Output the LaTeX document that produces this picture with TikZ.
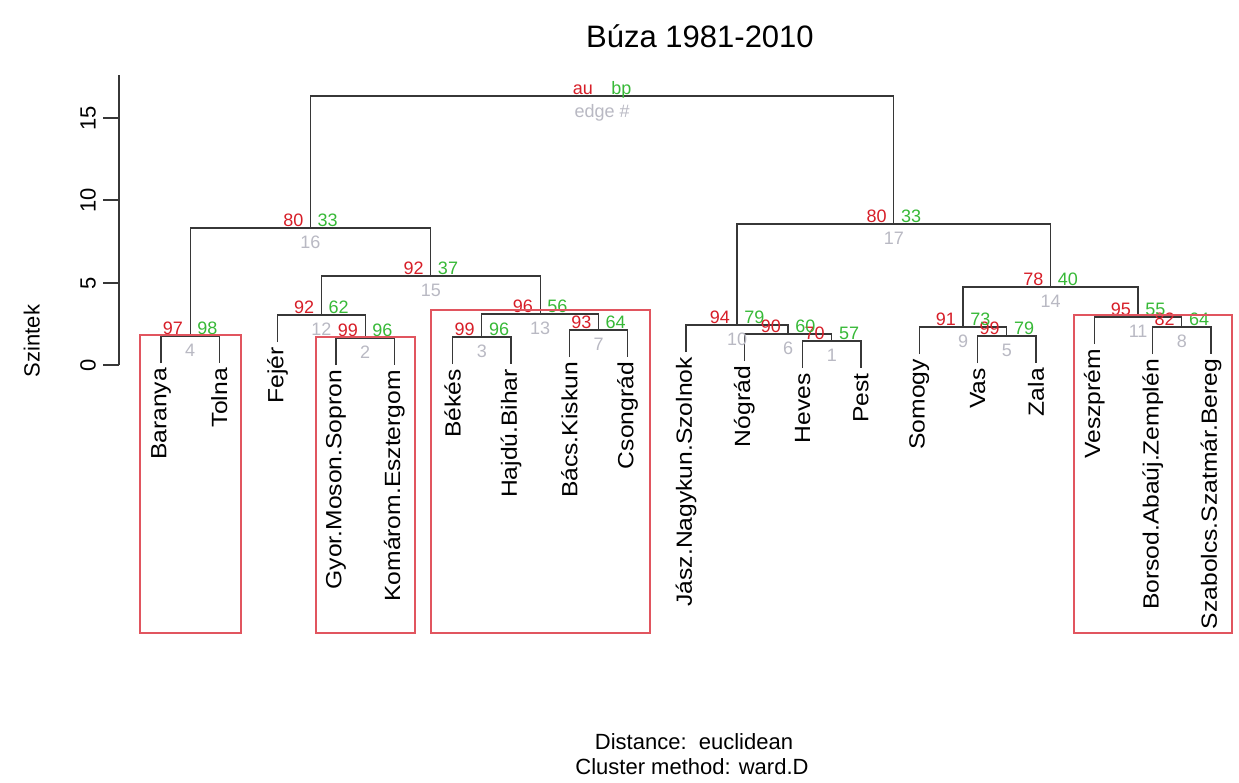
\documentclass[tikz,border=0pt]{standalone}
\usepackage{fontspec}
\setmainfont{Liberation Sans}
\usetikzlibrary{calc}
\definecolor{aured}{RGB}{215,30,40}
\definecolor{bpgreen}{RGB}{55,185,55}
\definecolor{edgegray}{RGB}{185,185,195}
\definecolor{rectred}{RGB}{225,85,95}
\definecolor{dendro}{RGB}{55,55,55}
\newcommand{\leafstretch}[1]{\scalebox{1.12}[1]{#1}}
\tikzset{
  branch/.style={draw=dendro, line width=1.2pt},
  axisline/.style={draw=dendro, line width=1.2pt},
  clusterbox/.style={draw=rectred, line width=1.2pt},
  leaflabel/.style={rotate=90, anchor=east, inner sep=0pt, font=\fontsize{22}{22}\selectfont},
  ticklabel/.style={rotate=90, anchor=south, inner sep=0pt, font=\fontsize{22}{22}\selectfont},
  aulabel/.style={text=aured, anchor=base east, inner sep=0pt, font=\fontsize{18}{18}\selectfont},
  bplabel/.style={text=bpgreen, anchor=base west, inner sep=0pt, font=\fontsize{18}{18}\selectfont},
  edgelabel/.style={text=edgegray, anchor=north, inner sep=0pt, font=\fontsize{18}{18}\selectfont},
  plaintext/.style={inner sep=0pt, font=\fontsize{22}{22}\selectfont},
}
\begin{document}
\begin{tikzpicture}[x=1pt,y=-1pt]
\useasboundingbox[fill=white] (0,0) rectangle (1239,782);

% title
\node[plaintext, font=\fontsize{31}{31}\selectfont] (title) at (700,36) {Búza 1981-2010};

% axis
\coordinate (ax0) at (119,365);
\coordinate (axtop) at (119,75);
\draw[axisline] (ax0) -- (axtop);
\foreach \v/\yy in {0/365,5/283,10/200,15/118}{
  \coordinate (tk\v) at (119,\yy);
  \coordinate (tke\v) at (103,\yy);
  \draw[axisline] (tk\v) -- (tke\v);
  \node[ticklabel] (tl\v) at (96,\yy) {\v};
}
\node[ticklabel] (ylab) at (40,341) {Szintek};

% leaves
\foreach \n/\x/\y/\t in {
 1/161/363/Baranya,
 2/219.33/363/Tolna,
 3/277.67/342/Fejér,
 4/336/365/Gyor.Moson.Sopron,
 5/394.33/365/Komárom.Esztergom,
 6/452.67/364/Békés,
 7/511/364/Hajdú.Bihar,
 8/569.33/357/Bács.Kiskun,
 9/627.67/357/Csongrád,
 10/686/352/Jász.Nagykun.Szolnok,
 11/744.33/361/Nógrád,
 12/802.67/368/Heves,
 13/861/368/Pest,
 14/919.33/354/Somogy,
 15/977.67/363/Vas,
 16/1036/363/Zala,
 17/1094.33/344/Veszprém,
 18/1152.67/354/Borsod.Abaúj.Zemplén,
 19/1211/354/Szabolcs.Szatmár.Bereg}{
  \coordinate (L\n) at (\x,\y);
  \node[leaflabel] (lab\n) at (\x,\y+5) {\leafstretch{\t}};
}

% merge points
\coordinate (e4) at (190.17,336);
\coordinate (e2) at (365.17,338);
\coordinate (e12) at (321.42,315);
\coordinate (e3) at (481.83,337);
\coordinate (e7) at (598.5,330);
\coordinate (e13) at (540.17,314);
\coordinate (e15) at (430.79,276);
\coordinate (e16) at (310.48,228);
\coordinate (e1) at (831.83,341);
\coordinate (e6) at (788.08,334);
\coordinate (e10) at (737.04,325);
\coordinate (e5) at (1006.83,336);
\coordinate (e9) at (963.08,327);
\coordinate (e8) at (1181.83,327);
\coordinate (e11) at (1138.08,317);
\coordinate (e14) at (1050.58,287);
\coordinate (e17) at (893.81,224);
\coordinate (e18) at (602.15,96);

% branches
\draw[branch] (L1) |- (e4) -| (L2);
\draw[branch] (L4) |- (e2) -| (L5);
\draw[branch] (L3) |- (e12) -| (e2);
\draw[branch] (L6) |- (e3) -| (L7);
\draw[branch] (L8) |- (e7) -| (L9);
\draw[branch] (e3) |- (e13) -| (e7);
\draw[branch] (e12) |- (e15) -| (e13);
\draw[branch] (e4) |- (e16) -| (e15);
\draw[branch] (L12) |- (e1) -| (L13);
\draw[branch] (L11) |- (e6) -| (e1);
\draw[branch] (L10) |- (e10) -| (e6);
\draw[branch] (L15) |- (e5) -| (L16);
\draw[branch] (L14) |- (e9) -| (e5);
\draw[branch] (L18) |- (e8) -| (L19);
\draw[branch] (L17) |- (e11) -| (e8);
\draw[branch] (e9) |- (e14) -| (e11);
\draw[branch] (e10) |- (e17) -| (e14);
\draw[branch] (e16) |- (e18) -| (e17);

% au / bp / edge labels
\foreach \n/\au/\bp in {4/97/98,2/99/96,12/92/62,3/99/96,7/93/64,13/96/56,15/92/37,16/80/33,
  1/70/57,6/90/60,10/94/79,5/99/79,9/91/73,8/82/64,11/95/55,14/78/40,17/80/33}{
  \node[aulabel] (au\n) at ($(e\n)+(-7,-2)$) {\au};
  \node[bplabel] (bp\n) at ($(e\n)+(7,-2)$) {\bp};
  \node[edgelabel] (ed\n) at ($(e\n)+(0,8)$) {\n};
}
\node[aulabel] (au18) at ($(e18)+(-9,-2)$) {au};
\node[bplabel] (bp18) at ($(e18)+(9,-2)$) {bp};
\node[edgelabel] (ed18) at ($(e18)+(0,8)$) {edge \#};

% cluster rectangles
\draw[clusterbox] (140,335) rectangle (241,633);
\draw[clusterbox] (316,337) rectangle (415,633);
\draw[clusterbox] (431,310) rectangle (650,633);
\draw[clusterbox] (1074,315) rectangle (1232,633);

% subtitle
\node[plaintext] (dist) at (694,742) {Distance:\ \ euclidean};
\node[plaintext] (meth) at (692,767) {Cluster method: ward.D};
\end{tikzpicture}
\end{document}
